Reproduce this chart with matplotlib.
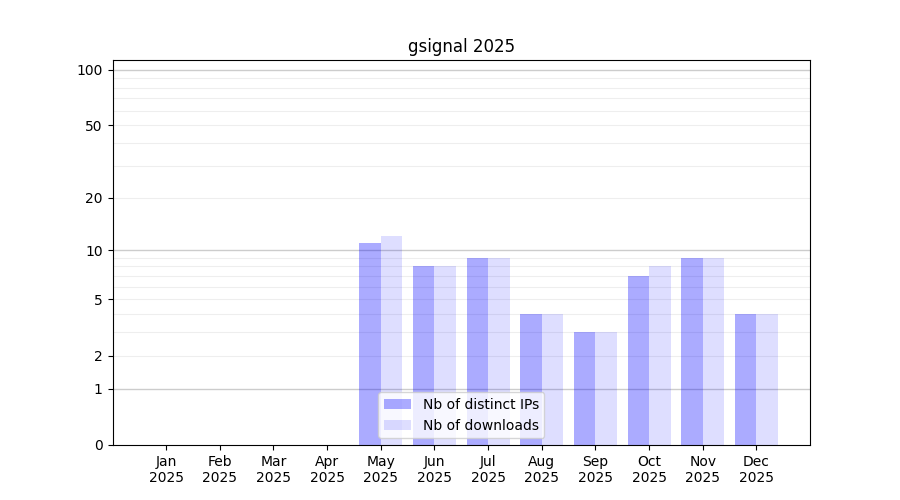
import matplotlib
matplotlib.use('Agg')
import matplotlib.pyplot as plt
import numpy as np

months = ['Jan', 'Feb', 'Mar', 'Apr', 'May', 'Jun', 'Jul', 'Aug', 'Sep', 'Oct', 'Nov', 'Dec']
year = '2025'
distinct_ips = [0, 0, 0, 0, 11, 8, 9, 4, 3, 7, 9, 4]
downloads = [0, 0, 0, 0, 12, 8, 9, 4, 3, 8, 9, 4]

tick_vals = [0, 1, 2, 5, 10, 20, 50, 100]
major_grid = [1, 10, 100]
minor_grid = [2, 3, 4, 5, 6, 7, 8, 9, 20, 30, 40, 50, 60, 70, 80, 90]

fig, ax = plt.subplots(figsize=(9, 5), dpi=100)
x = np.arange(len(months))

ax.set_yscale('function', functions=(lambda v: np.log10(1 + np.maximum(v, 0)),
                                     lambda v: 10 ** v - 1))

for v in minor_grid:
    ax.axhline(v, color='#eeeeee', linewidth=0.8, zorder=0)
for v in major_grid:
    ax.axhline(v, color='#cccccc', linewidth=1, zorder=0)

ax.bar(x - 0.2, distinct_ips, width=0.4, color='blue', alpha=0.33,
       label='Nb of distinct IPs', zorder=2)
ax.bar(x + 0.2, downloads, width=0.4, color='blue', alpha=0.13,
       label='Nb of downloads', zorder=2)

ax.set_ylim(0, 113)
ax.set_xlim(-1, 12)
ax.set_yticks(tick_vals)
ax.set_yticklabels([str(v) for v in tick_vals])
ax.minorticks_off()

ax.set_xticks(x)
ax.set_xticklabels([m + '\n' + year for m in months])
ax.set_title('gsignal ' + year)
ax.legend(loc='lower center')

fig.savefig('out.png')
